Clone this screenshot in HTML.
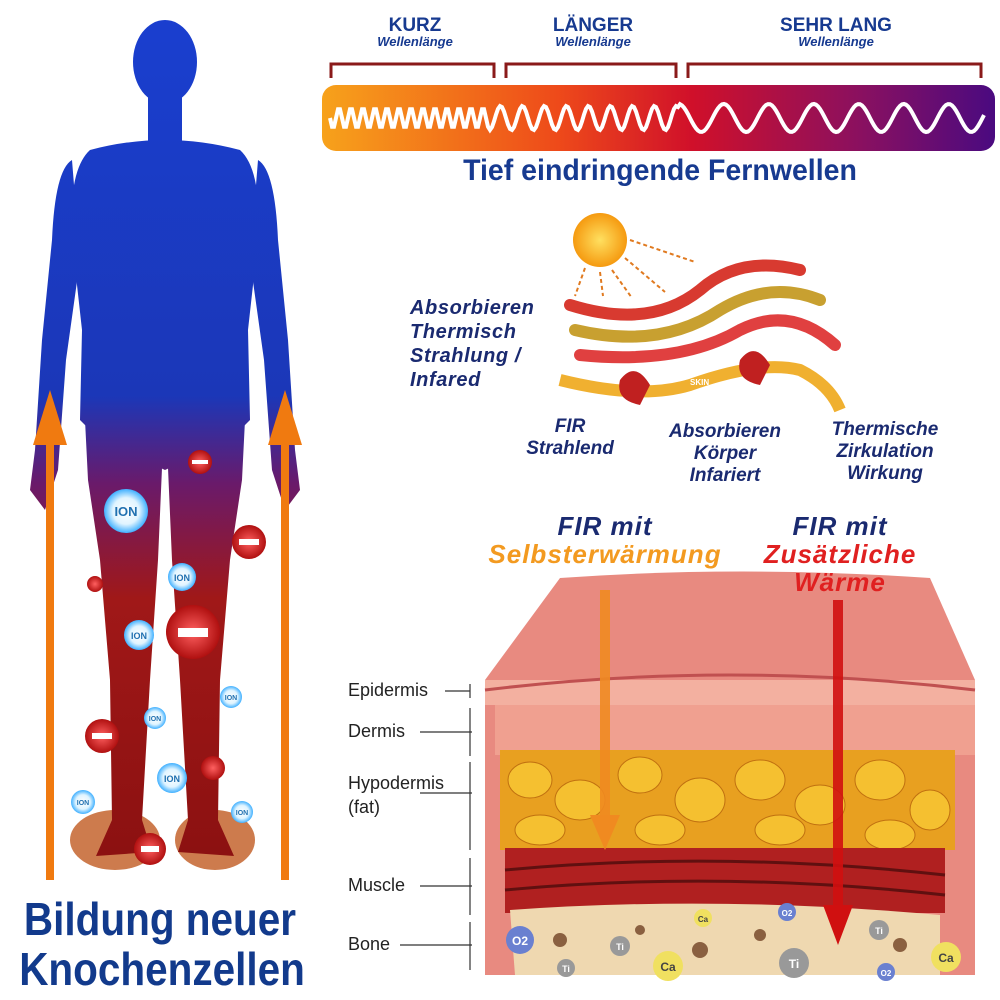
<!DOCTYPE html>
<html><head><meta charset="utf-8"><style>
html,body{margin:0;padding:0;background:#fff;}
body{width:1000px;height:1000px;position:relative;overflow:hidden;font-family:"Liberation Sans",sans-serif;}
.t{position:absolute;white-space:nowrap;}
</style></head><body>
<svg width="1000" height="1000" viewBox="0 0 1000 1000" style="position:absolute;left:0;top:0">
<defs>
<linearGradient id="body" gradientUnits="userSpaceOnUse" x1="0" y1="0" x2="0" y2="880">
<stop offset="0" stop-color="#1a3fd0"/><stop offset="0.45" stop-color="#1b37b8"/>
<stop offset="0.55" stop-color="#6a1a6a"/><stop offset="0.68" stop-color="#a01818"/><stop offset="1" stop-color="#8a1010"/></linearGradient>
<linearGradient id="bar" x1="0" y1="0" x2="1" y2="0">
<stop offset="0" stop-color="#f7a21b"/><stop offset="0.35" stop-color="#ee4a1a"/><stop offset="0.55" stop-color="#d0102a"/><stop offset="0.8" stop-color="#8a1060"/><stop offset="1" stop-color="#4a0a80"/></linearGradient>
<radialGradient id="sun"><stop offset="0" stop-color="#ffe060"/><stop offset="1" stop-color="#f59a10"/></radialGradient>
<radialGradient id="neg"><stop offset="0" stop-color="#ff6060"/><stop offset="1" stop-color="#b01010"/></radialGradient>
<radialGradient id="ion"><stop offset="0" stop-color="#fff"/><stop offset="0.6" stop-color="#e0f4ff"/><stop offset="1" stop-color="#40b0ff"/></radialGradient>
</defs>
<ellipse cx="115" cy="840" rx="45" ry="30" fill="#c05a20" opacity="0.8"/>
<ellipse cx="215" cy="840" rx="40" ry="30" fill="#c05a20" opacity="0.8"/>
<!-- body -->
<g fill="url(#body)">
<ellipse cx="165" cy="62" rx="32" ry="42"/>
<rect x="148" y="95" width="34" height="50"/>
<path d="M90 150 Q165 130 240 150 Q262 170 258 240 L248 330 L250 420 L230 440 L165 470 L100 440 L80 420 L82 330 L72 240 Q68 170 90 150Z"/>
<path d="M72 160 Q55 170 52 240 L42 340 L35 450 L30 490 L45 510 L58 470 L66 360 L80 260Z"/>
<path d="M258 160 Q275 170 278 240 L288 340 L295 450 L300 490 L285 510 L272 470 L264 360 L250 260Z"/>
<path d="M85 420 L162 468 L158 560 L150 680 L142 820 L152 852 L96 856 L112 820 L110 680 L100 560 L88 480Z"/>
<path d="M245 420 L168 468 L172 560 L180 680 L188 820 L178 852 L234 856 L218 820 L220 680 L230 560 L242 480Z"/>
</g>
<!-- orange arrows -->
<g fill="#f07a10"><rect x="46" y="440" width="8" height="440"/><polygon points="33,445 50,390 67,445"/>
<rect x="281" y="440" width="8" height="440"/><polygon points="268,445 285,390 302,445"/></g>
<!-- ions -->
<g fill="url(#neg)"><circle cx="200" cy="462" r="12"/><circle cx="249" cy="542" r="17"/><circle cx="95" cy="584" r="8"/><circle cx="193" cy="632" r="27"/><circle cx="102" cy="736" r="17"/><circle cx="213" cy="768" r="12"/><circle cx="150" cy="849" r="16"/></g>
<g fill="#fff"><rect x="192" y="460" width="16" height="4"/><rect x="239" y="539" width="20" height="6"/><rect x="178" y="628" width="30" height="9"/><rect x="92" y="733" width="20" height="6"/><rect x="141" y="846" width="18" height="6"/></g>
<g fill="url(#ion)"><circle cx="126" cy="511" r="22"/><circle cx="182" cy="577" r="14"/><circle cx="139" cy="635" r="15"/><circle cx="231" cy="697" r="11"/><circle cx="155" cy="718" r="11"/><circle cx="172" cy="778" r="15"/><circle cx="83" cy="802" r="12"/><circle cx="242" cy="812" r="11"/></g>
<g fill="#2070b0" font-weight="bold" text-anchor="middle" font-family="Liberation Sans"><text x="126" y="516" font-size="13">ION</text><text x="182" y="581" font-size="9">ION</text><text x="139" y="639" font-size="9">ION</text><text x="231" y="700" font-size="7">ION</text><text x="155" y="721" font-size="7">ION</text><text x="172" y="782" font-size="9">ION</text><text x="83" y="805" font-size="7">ION</text><text x="242" y="815" font-size="7">ION</text></g>
<!-- brackets -->
<g stroke="#8a1a1a" stroke-width="3" fill="none"><path d="M331 78 V64 H494 V78"/><path d="M506 78 V64 H676 V78"/><path d="M688 78 V64 H981 V78"/></g>
<rect x="322" y="85" width="673" height="66" rx="14" fill="url(#bar)"/>
<path id="w" fill="none" stroke="#fff" stroke-width="4" d=""/>
<!-- sun & rays -->
<circle cx="600" cy="240" r="27" fill="url(#sun)"/>
<g stroke="#e07a20" stroke-width="2" stroke-dasharray="4 3"><line x1="630" y1="240" x2="695" y2="262"/><line x1="625" y1="258" x2="665" y2="292"/><line x1="612" y1="270" x2="632" y2="298"/><line x1="600" y1="272" x2="603" y2="296"/><line x1="585" y1="268" x2="575" y2="296"/></g>
<!-- heat bands -->
<g fill="none" stroke-width="12" stroke-linecap="round">
<path d="M570 305 Q650 330 700 290 Q740 255 800 270" stroke="#d83a30"/>
<path d="M575 330 Q660 350 720 310 Q770 280 820 300" stroke="#c8a030"/>
<path d="M580 355 Q680 365 740 330 Q790 305 835 345" stroke="#e04040"/>
</g>
<path d="M560 380 Q640 400 690 385 Q760 360 800 370 Q830 385 840 410" fill="none" stroke="#f0b030" stroke-width="12"/>
<text x="690" y="385" font-size="8" fill="#fff" font-weight="bold">SKIN</text>
<g fill="#c02020"><path d="M620 380 Q635 360 650 385 L640 405 Q615 400 620 380Z"/><path d="M740 360 Q755 340 770 365 L760 385 Q735 380 740 360Z"/></g>
<!-- skin section -->
<path d="M485 680 L560 578 Q740 565 930 578 L975 680 L975 975 L485 975Z" fill="#e88a80"/>
<rect x="485" y="680" width="490" height="25" fill="#f3b0a0"/>
<path d="M485 690 Q730 660 975 690" stroke="#c05050" stroke-width="3" fill="none"/>
<rect x="495" y="705" width="480" height="50" fill="#f0a090"/>
<rect x="500" y="750" width="455" height="100" fill="#e8a020"/>
<g fill="#f5c030" stroke="#c07010" stroke-width="1">
<ellipse cx="530" cy="780" rx="22" ry="18"/><ellipse cx="580" cy="800" rx="25" ry="20"/><ellipse cx="640" cy="775" rx="22" ry="18"/><ellipse cx="700" cy="800" rx="25" ry="22"/><ellipse cx="760" cy="780" rx="25" ry="20"/><ellipse cx="820" cy="805" rx="25" ry="20"/><ellipse cx="880" cy="780" rx="25" ry="20"/><ellipse cx="930" cy="810" rx="20" ry="20"/><ellipse cx="540" cy="830" rx="25" ry="15"/><ellipse cx="660" cy="830" rx="25" ry="15"/><ellipse cx="780" cy="830" rx="25" ry="15"/><ellipse cx="890" cy="835" rx="25" ry="15"/></g>
<rect x="505" y="848" width="440" height="65" fill="#b02020"/>
<path d="M505 870 Q720 850 945 875 M505 890 Q720 870 945 895" stroke="#601010" stroke-width="3" fill="none"/>
<path d="M510 910 Q720 895 940 915 L940 975 L515 975Z" fill="#efd8b0"/>
<g fill="#8a6040"><circle cx="560" cy="940" r="7"/><circle cx="640" cy="930" r="5"/><circle cx="700" cy="950" r="8"/><circle cx="760" cy="935" r="6"/><circle cx="900" cy="945" r="7"/></g>
<!-- arrows in skin -->
<rect x="600" y="590" width="10" height="230" fill="#f08a20" opacity="0.9"/><polygon points="590,815 605,850 620,815" fill="#f08a20"/>
<rect x="833" y="600" width="10" height="310" fill="#d01010" opacity="0.9"/><polygon points="823,905 838,945 853,905" fill="#d01010"/>
<!-- label lines -->
<g stroke="#333" stroke-width="1.2" fill="none">
<line x1="445" y1="691" x2="470" y2="691"/><path d="M470 684 V698"/>
<line x1="420" y1="732" x2="472" y2="732"/><path d="M470 708 V756"/>
<line x1="420" y1="793" x2="472" y2="793"/><path d="M470 762 V850"/>
<line x1="420" y1="886" x2="472" y2="886"/><path d="M470 858 V915"/>
<line x1="400" y1="945" x2="472" y2="945"/><path d="M470 922 V970"/>
</g>
<!-- minerals -->
<g font-family="Liberation Sans" font-weight="bold" text-anchor="middle">
<circle cx="520" cy="940" r="14" fill="#6a80d0"/><text x="520" y="945" font-size="12" fill="#fff">O2</text>
<circle cx="566" cy="968" r="9" fill="#999"/><text x="566" y="972" font-size="9" fill="#fff">Ti</text>
<circle cx="620" cy="946" r="10" fill="#999"/><text x="620" y="950" font-size="9" fill="#fff">Ti</text>
<circle cx="668" cy="966" r="15" fill="#f0e060"/><text x="668" y="971" font-size="12" fill="#444">Ca</text>
<circle cx="703" cy="918" r="9" fill="#f0e060"/><text x="703" y="922" font-size="8" fill="#444">Ca</text>
<circle cx="787" cy="912" r="9" fill="#6a80d0"/><text x="787" y="916" font-size="8" fill="#fff">O2</text>
<circle cx="794" cy="963" r="15" fill="#999"/><text x="794" y="968" font-size="12" fill="#fff">Ti</text>
<circle cx="879" cy="930" r="10" fill="#999"/><text x="879" y="934" font-size="9" fill="#fff">Ti</text>
<circle cx="886" cy="972" r="9" fill="#6a80d0"/><text x="886" y="976" font-size="8" fill="#fff">O2</text>
<circle cx="946" cy="957" r="15" fill="#f0e060"/><text x="946" y="962" font-size="12" fill="#444">Ca</text>
</g>
</svg>
<script>
(function(){var d="M330 118";for(var x=330;x<=985;x+=2){var t=x-330;var p=t<160?12:(t<350?22:45);var a=t<160?10:(t<350?12:14);d+=" L"+x+" "+(118+a*Math.sin(2*Math.PI*t/p)).toFixed(1);}document.getElementById("w").setAttribute("d",d);})();
</script>
<div class="t" style="left:0;top:894px;width:320px;text-align:center;font-size:46px;font-weight:bold;color:#123a8c;line-height:50px;transform:scaleX(0.88);">Bildung neuer<br>Knochenzellen</div>
<div class="t" style="left:355px;top:15px;width:120px;text-align:center;color:#173a90;"><div style="font-size:19px;font-weight:bold;">KURZ</div><div style="font-size:13px;font-style:italic;font-weight:bold;margin-top:-3px">Wellenlänge</div></div>
<div class="t" style="left:533px;top:15px;width:120px;text-align:center;color:#173a90;"><div style="font-size:19px;font-weight:bold;">LÄNGER</div><div style="font-size:13px;font-style:italic;font-weight:bold;margin-top:-3px">Wellenlänge</div></div>
<div class="t" style="left:766px;top:15px;width:140px;text-align:center;color:#173a90;"><div style="font-size:19px;font-weight:bold;">SEHR LANG</div><div style="font-size:13px;font-style:italic;font-weight:bold;margin-top:-3px">Wellenlänge</div></div>
<div class="t" style="left:410px;top:154px;width:500px;text-align:center;font-size:30px;font-weight:bold;color:#173a90;transform:scaleX(0.95);">Tief eindringende Fernwellen</div>
<div class="t" style="left:410px;top:296px;font-size:20px;font-weight:bold;font-style:italic;color:#1a2a70;line-height:24px;letter-spacing:0.6px;">Absorbieren<br>Thermisch<br>Strahlung /<br>Infared</div>
<div class="t" style="left:510px;top:416px;width:120px;text-align:center;font-size:19px;font-weight:bold;font-style:italic;color:#1a2a70;line-height:22px;">FIR<br>Strahlend</div>
<div class="t" style="left:650px;top:421px;width:150px;text-align:center;font-size:19px;font-weight:bold;font-style:italic;color:#1a2a70;line-height:22px;">Absorbieren<br>Körper<br>Infariert</div>
<div class="t" style="left:810px;top:419px;width:150px;text-align:center;font-size:19px;font-weight:bold;font-style:italic;color:#1a2a70;line-height:22px;">Thermische<br>Zirkulation<br>Wirkung</div>
<div class="t" style="left:455px;top:512px;width:300px;text-align:center;font-size:26px;font-weight:bold;font-style:italic;line-height:28px;letter-spacing:1px;"><span style="color:#1a2a70">FIR mit</span><br><span style="color:#f39a20">Selbsterwärmung</span></div>
<div class="t" style="left:700px;top:512px;width:280px;text-align:center;font-size:26px;font-weight:bold;font-style:italic;line-height:28px;letter-spacing:1px;"><span style="color:#1a2a70">FIR mit</span><br><span style="color:#e02020">Zusätzliche<br>Wärme</span></div>
<div class="t" style="left:348px;top:680px;font-size:18px;color:#222;">Epidermis</div>
<div class="t" style="left:348px;top:721px;font-size:18px;color:#222;">Dermis</div>
<div class="t" style="left:348px;top:771px;font-size:18px;color:#222;line-height:24px;">Hypodermis<br>(fat)</div>
<div class="t" style="left:348px;top:875px;font-size:18px;color:#222;">Muscle</div>
<div class="t" style="left:348px;top:934px;font-size:18px;color:#222;">Bone</div>
</body></html>
